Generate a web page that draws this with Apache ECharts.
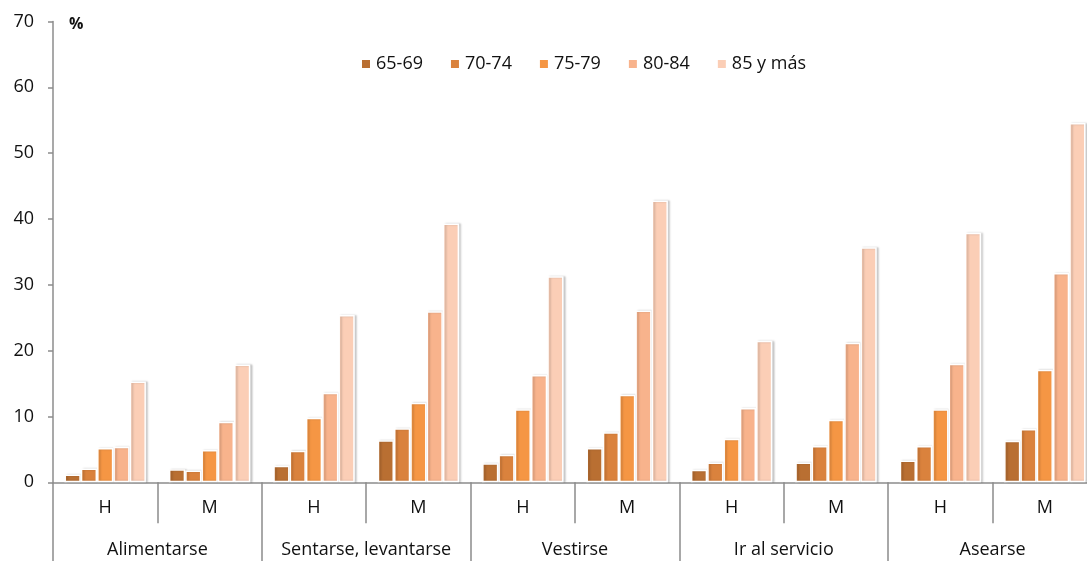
<!DOCTYPE html>
<html>
<head>
<meta charset="utf-8">
<script src="https://cdn.jsdelivr.net/npm/echarts@6/dist/echarts.min.js"></script>
<style>
html,body{margin:0;padding:0;background:#fff;overflow:hidden;width:1087px;height:561px;}
#chart{width:1097px;height:561px;}
</style>
</head>
<body>
<div id="chart"></div>
<script>
const sexes = ['H','M','H','M','H','M','H','M','H','M'];
const activities = ['Alimentarse','Sentarse, levantarse','Vestirse','Ir al servicio','Asearse'];
const seriesNames = ['65-69','70-74','75-79','80-84','85 y más'];
const v6569 = [1.2, 2.0, 2.5, 6.4, 2.9, 5.2, 1.9, 3.0, 3.3, 6.3];
const v7074 = [2.1, 1.8, 4.8, 8.2, 4.2, 7.6, 3.0, 5.5, 5.5, 8.1];
const v7579 = [5.2, 4.9, 9.8, 12.1, 11.1, 13.3, 6.6, 9.5, 11.1, 17.1];
const v8084 = [5.4, 9.2, 13.6, 26.0, 16.3, 26.1, 11.3, 21.2, 18.0, 31.8];
const v85 = [15.3, 17.9, 25.4, 39.3, 31.3, 42.8, 21.5, 35.7, 37.9, 54.6];
const yTicks = [0, 70, 10];
const colors = ['#B96F32','#DA823D','#F59644','#F8B38C','#FBCEB6'];
const values = [v6569, v7074, v7579, v8084, v85];

const font = '"Open Sans", sans-serif';
const axisGray = '#8c8c8c';
const txt = '#111111';
const fs = 18;
const chart = echarts.init(document.getElementById('chart'));
chart.setOption({
  animation: false,
  textStyle: {fontFamily: font},
  grid: {left: 53, right: 0, top: 21.5, bottom: 78.7, containLabel: false},
  legend: {
    left: 355, top: 50, itemWidth: 10, itemHeight: 10, itemGap: 26,
    icon: 'rect',
    textStyle: {fontFamily: font, fontSize: fs, color: txt},
    data: seriesNames
  },
  graphic: [{
    type: 'text', left: 69, top: 16,
    style: {text: '%', font: 'bold 16px ' + font, fill: txt}
  }],
  xAxis: [{
    type: 'category', data: sexes, position: 'bottom',
    axisLine: {lineStyle: {color: axisGray, width: 1.5}},
    axisTick: {show: true, interval: 0, length: 41, lineStyle: {color: axisGray, width: 1.5}},
    axisLabel: {interval: 0, margin: 17, fontSize: fs, color: txt, fontFamily: font}
  }, {
    type: 'category', data: activities, position: 'bottom',
    axisLine: {show: false},
    axisTick: {show: true, interval: 0, length: 80, lineStyle: {color: axisGray, width: 1.5}},
    axisLabel: {interval: 0, margin: 59, fontSize: fs, color: txt, fontFamily: font}
  }],
  yAxis: {
    type: 'value', min: yTicks[0], max: yTicks[1], interval: yTicks[2],
    axisLine: {show: true, lineStyle: {color: axisGray, width: 1.5}},
    axisTick: {show: true, length: 5, lineStyle: {color: axisGray, width: 1.5}},
    splitLine: {show: false},
    axisLabel: {margin: 19, fontSize: fs, color: txt, fontFamily: font}
  },
  series: seriesNames.map((n, i) => ({
    name: n, type: 'bar', xAxisIndex: 0, data: values[i],
    barGap: '0%', barCategoryGap: '22%',
    itemStyle: {
      color: colors[i], borderColor: '#ffffff', borderWidth: 1.5,
      shadowColor: 'rgba(0,0,0,0.18)', shadowBlur: 2, shadowOffsetX: 2, shadowOffsetY: 0
    }
  }))
});
</script>
</body>
</html>
